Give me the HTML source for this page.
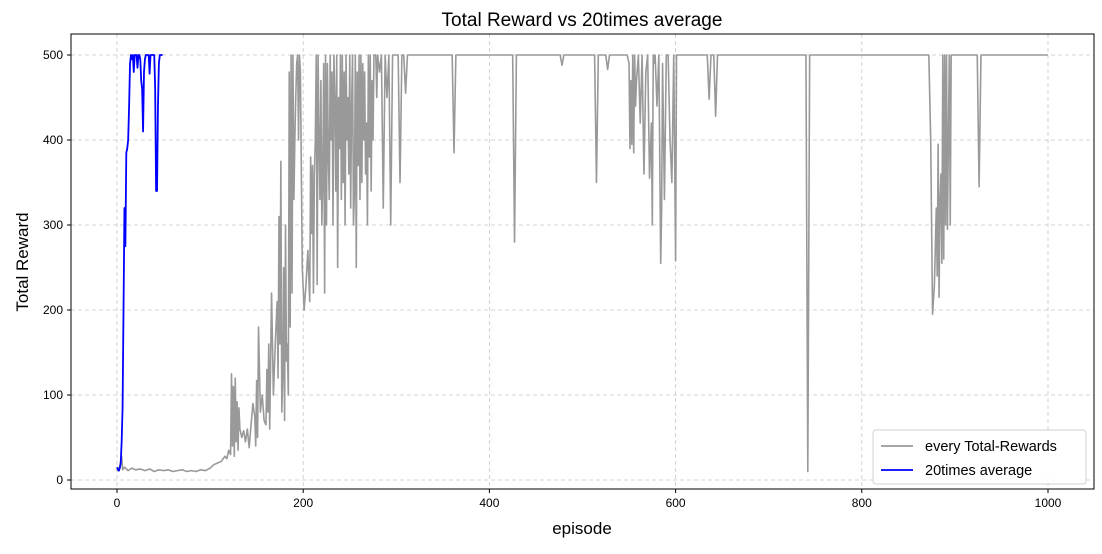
<!DOCTYPE html>
<html><head><meta charset="utf-8"><style>
body{margin:0;background:#fff;font-family:"Liberation Sans","DejaVu Sans",sans-serif}
</style></head><body>
<svg id="chart" width="1102" height="549" xmlns="http://www.w3.org/2000/svg"></svg>
<script>
const xTicks=[0,200,400,600,800,1000];
const yTicks=[0,100,200,300,400,500];
const avgEpisodes=[0,1,2,3,4,5,6,7,8,9,10,11,12,13,14,15,16,17,18,19,20,21,22,23,24,25,26,27,28,29,30,31,32,33,34,35,36,37,38,39,40,41,42,43,44,45,46,47,48,49];
const avgValues=[15,12,11,14,20,45,85,200,320,275,385,390,400,440,490,500,495,500,480,500,500,500,485,500,500,495,470,460,410,480,495,500,500,500,500,478,500,500,500,500,500,460,340,340,440,490,500,500,500,500];
const rewardPoints=[[0,12],[3,16],[5,28],[6,12],[8,15],[12,11],[16,14],[20,12],[25,13],[30,11],[35,13],[40,10],[45,12],[50,11],[55,12],[60,10],[65,11],[70,12],[75,10],[80,11],[85,10],[90,12],[95,11],[100,14],[104,18],[108,20],[112,22],[116,28],[118,25],[120,35],[122,30],[123,125],[124,40],[125,110],[126,28],[127,120],[128,45],[129,92],[130,35],[131,85],[132,60],[134,50],[136,58],[138,45],[140,60],[142,38],[144,65],[146,90],[148,75],[149,40],[150,117],[151,50],[152,180],[154,80],[156,100],[158,70],[160,65],[161,130],[162,80],[163,160],[164,60],[166,220],[168,100],[170,160],[172,210],[173,120],[174,310],[175,160],[176,375],[177,80],[178,120],[179,250],[180,70],[181,300],[182,140],[183,160],[184,100],[185,480],[186,180],[187,500],[188,220],[189,500],[190,330],[191,400],[192,450],[193,490],[194,500],[195,400],[196,500],[197,480],[199,250],[201,200],[203,230],[205,270],[207,210],[208,380],[209,290],[210,370],[211,220],[212,360],[213,400],[214,500],[215,230],[216,500],[217,400],[218,330],[219,470],[220,300],[221,350],[222,490],[223,220],[224,500],[225,300],[226,490],[227,380],[228,330],[229,500],[230,400],[231,480],[232,300],[233,500],[234,450],[235,340],[236,500],[237,250],[238,450],[239,390],[240,500],[241,330],[242,500],[243,350],[244,480],[245,300],[246,500],[247,400],[248,450],[249,360],[250,500],[251,320],[252,440],[253,500],[254,300],[255,340],[256,500],[257,250],[258,480],[259,370],[260,500],[261,330],[262,500],[263,350],[264,490],[265,400],[266,480],[267,360],[268,420],[269,300],[270,500],[271,380],[272,500],[273,340],[274,470],[275,400],[276,500],[278,500],[279,450],[280,500],[282,480],[284,500],[286,320],[288,500],[290,450],[292,500],[294,300],[296,500],[300,500],[302,500],[304,350],[306,500],[308,500],[310,455],[312,500],[360,500],[362,385],[364,500],[425,500],[427,280],[429,500],[476,500],[478,488],[480,500],[513,500],[515,350],[517,500],[525,500],[527,483],[529,500],[548,500],[550,490],[551,390],[552,470],[553,395],[554,500],[555,385],[556,500],[557,440],[558,470],[560,500],[562,420],[564,500],[566,360],[568,480],[570,500],[572,355],[574,420],[575,300],[576,500],[577,490],[578,500],[580,440],[582,500],[584,255],[585,320],[586,490],[588,330],[590,500],[592,500],[594,400],[596,350],[598,500],[600,258],[601,500],[604,500],[634,500],[636,448],[638,500],[641,500],[643,428],[645,500],[740,500],[742,10],[744,500],[872,500],[874,400],[876,195],[878,230],[880,320],[881,240],[882,395],[883,215],[884,330],[885,360],[886,255],[887,500],[888,260],[889,500],[890,300],[891,500],[892,295],[893,400],[894,500],[895,300],[896,500],[900,500],[924,500],[926,345],[928,500],[1000,500]];
const svg=document.getElementById('chart');const NS='http://www.w3.org/2000/svg';
const L=71,R=1094,T=34,B=489;
const xs=v=>117+(v-0)*(1048-117)/1000;
const ys=v=>480-v*(480-55)/500;
function mk(tag,attrs,parent){const e=document.createElementNS(NS,tag);for(const k in attrs)e.setAttribute(k,attrs[k]);(parent||svg).appendChild(e);return e;}
xTicks.forEach(t=>{const g=mk('line',{x1:xs(t),x2:xs(t),y1:T,y2:B,stroke:'#c8c8c8','stroke-dasharray':'4,3','stroke-width':0.8});


const tk=mk('line',{x1:xs(t),x2:xs(t),y1:B,y2:B+4,stroke:'#000'});


const tx=mk('text',{x:xs(t),y:B+18,'text-anchor':'middle','font-size':12,fill:'#000'});tx.textContent=t;

});
yTicks.forEach(t=>{const g=mk('line',{x1:L,x2:R,y1:ys(t),y2:ys(t),stroke:'#c8c8c8','stroke-dasharray':'4,3','stroke-width':0.8});


const tk=mk('line',{x1:L-4,x2:L,y1:ys(t),y2:ys(t),stroke:'#000'});


const tx=mk('text',{x:L-8,y:ys(t)+4,'text-anchor':'end','font-size':12,fill:'#000'});tx.textContent=t;

});
const gp=mk('polyline',{points:rewardPoints.map(p=>xs(p[0])+','+ys(p[1])).join(' '),fill:'none',stroke:'#999999','stroke-width':1.6,'stroke-linejoin':'round'});


const bp=mk('polyline',{points:avgEpisodes.map((e,i)=>xs(e)+','+ys(avgValues[i])).join(' '),fill:'none',stroke:'#0000ff','stroke-width':1.8,'stroke-linejoin':'round'});


const fr=mk('rect',{x:L,y:T,width:R-L,height:B-T,fill:'none',stroke:'#000','stroke-width':1});


</script>
<svg width="1102" height="549" style="position:absolute;left:0;top:0" xmlns="http://www.w3.org/2000/svg">
<text x="582" y="26" text-anchor="middle" font-size="19" fill="#000">Total Reward vs 20times average</text>
<text x="582" y="534" text-anchor="middle" font-size="17" fill="#000">episode</text>
<text x="28" y="262" text-anchor="middle" font-size="17" fill="#000" transform="rotate(-90 28 262)">Total Reward</text>
<g>
<rect x="873" y="430" width="213" height="54" rx="3" fill="#fff" fill-opacity="0.85" stroke="#d0d0d0"/>
<line x1="881" y1="446" x2="913" y2="446" stroke="#999" stroke-width="1.8"/>
<text x="925" y="451" font-size="14.5" fill="#000">every Total-Rewards</text>
<line x1="881" y1="470" x2="913" y2="470" stroke="#00f" stroke-width="1.8"/>
<text x="925" y="475" font-size="14.5" fill="#000">20times average</text>
</g>
</svg>
</body></html>
